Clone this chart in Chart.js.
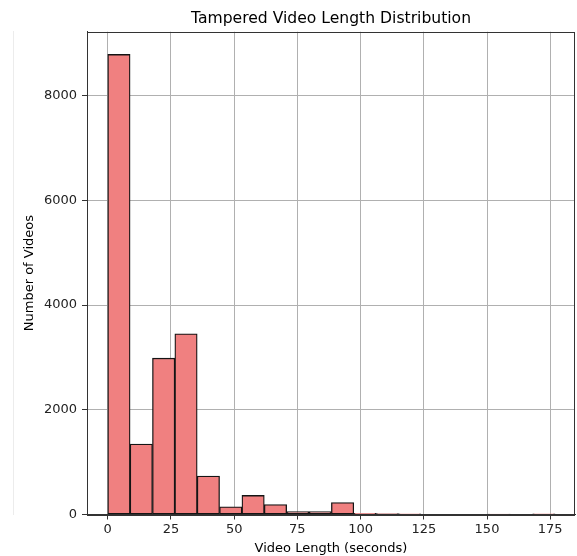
<!DOCTYPE html>
<html>
<head>
<meta charset="utf-8">
<script src="https://cdn.jsdelivr.net/npm/chart.js@4/dist/chart.umd.min.js"></script>
<style>
  html, body { margin: 0; padding: 0; background: #ffffff; }
  #wrap { position: relative; width: 577px; height: 556px; }
  #edge { position: absolute; left: 13px; top: 31px; width: 1px; height: 484px; background: #ececec; }
  #c { position: absolute; left: 0; top: 0; }
</style>
</head>
<body>
<div id="wrap">
  <div id="edge"></div>
  <canvas id="c" width="577" height="556"></canvas>
</div>
<script>
// Histogram bins (seconds) and the number of videos in each bin
const binEdges = [0, 8.85, 17.69, 26.54, 35.38, 44.23, 53.07, 61.92, 70.76, 79.61, 88.45,
                  97.30, 106.14, 114.99, 123.83, 132.68, 141.52, 150.37, 159.21, 168.06, 176.90];
const videoCounts = [8786, 1345, 2985, 3449, 733, 147, 364, 191, 57, 57, 230,
                     22, 18, 12, 0, 0, 0, 10, 0, 14];

// Axis ticks and ranges
const xTickValues = [0, 25, 50, 75, 100, 125, 150, 175];
const yTickValues = [0, 2000, 4000, 6000, 8000];
const xRange = [-8.2, 184.8];
const yRange = [0, 9220];

const chartTitle = 'Tampered Video Length Distribution';
const xAxisTitle = 'Video Length (seconds)';
const yAxisTitle = 'Number of Videos';

const FONT = 'DejaVu Sans';

// One bar per bin, centred between its two edges
const barData = videoCounts.map((count, i) => ({
  x: (binEdges[i] + binEdges[i + 1]) / 2,
  y: count
}));

// Frame around the plotting area (top and right sides included)
const frame = {
  id: 'frame',
  afterDraw(chart) {
    const { ctx, chartArea: a } = chart;
    ctx.save();
    ctx.strokeStyle = '#333333';
    ctx.lineWidth = 1;
    ctx.strokeRect(Math.round(a.left) + 0.5, Math.round(a.top) + 0.5,
                   Math.round(a.right - a.left) - 1, Math.round(a.bottom - a.top));
    ctx.restore();
  }
};

new Chart(document.getElementById('c'), {
  type: 'bar',
  data: {
    datasets: [{
      data: barData,
      backgroundColor: '#f08080',
      borderColor: '#141414',
      borderWidth: 1.3,
      borderSkipped: false,
      barPercentage: 1,
      categoryPercentage: 1
    }]
  },
  plugins: [frame],
  options: {
    responsive: false,
    animation: false,
    layout: { padding: { left: 0, right: 2, top: 0, bottom: 0 } },
    plugins: {
      legend: { display: false },
      tooltip: { enabled: false },
      title: {
        display: true,
        text: chartTitle,
        fullSize: false,
        color: '#000000',
        font: { family: FONT, size: 15.6, weight: 'normal' },
        padding: { top: 10, bottom: 3 }
      }
    },
    scales: {
      x: {
        type: 'linear',
        min: xRange[0],
        max: xRange[1],
        offset: false,
        afterBuildTicks(scale) { scale.ticks = xTickValues.map(v => ({ value: v })); },
        afterFit(scale) { scale.height = 41.5; },
        grid: {
          offset: false,
          color: '#b0b0b0',
          lineWidth: 1,
          drawTicks: true,
          tickLength: 5,
          tickColor: '#333333'
        },
        border: { display: true, color: '#333333', width: 1 },
        ticks: {
          color: '#222222',
          font: { family: FONT, size: 13 },
          padding: 2,
          maxRotation: 0,
          autoSkip: false,
          callback: v => String(v)
        },
        title: {
          display: true,
          text: xAxisTitle,
          color: '#000000',
          font: { family: FONT, size: 13 },
          padding: { top: 0, bottom: 0 }
        }
      },
      y: {
        type: 'linear',
        min: yRange[0],
        max: yRange[1],
        afterBuildTicks(scale) { scale.ticks = yTickValues.map(v => ({ value: v })); },
        afterFit(scale) { scale.width = 87; },
        grid: {
          color: '#b0b0b0',
          lineWidth: 1,
          drawTicks: true,
          tickLength: 5,
          tickColor: '#333333'
        },
        border: { display: true, color: '#333333', width: 1 },
        ticks: {
          color: '#222222',
          font: { family: FONT, size: 13 },
          padding: 5,
          autoSkip: false,
          callback: v => String(v)
        },
        title: {
          display: true,
          text: yAxisTitle,
          color: '#000000',
          font: { family: FONT, size: 13 },
          padding: { top: 22, bottom: 0 }
        }
      }
    }
  }
});
</script>
</body>
</html>
